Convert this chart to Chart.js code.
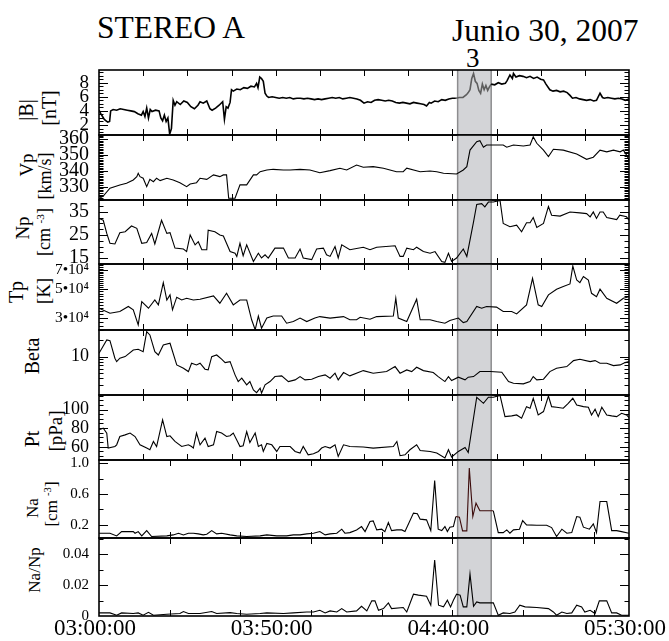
<!DOCTYPE html>
<html>
<head>
<meta charset="utf-8">
<script src="https://cdn.jsdelivr.net/npm/chart.js@4.4.1/dist/chart.umd.min.js"></script>
<style>
  html, body { margin: 0; padding: 0; background: #fff; overflow: hidden; width: 669px; height: 641px; }
  #wrap { position: relative; width: 669px; height: 641px; font-family: "Liberation Serif", "DejaVu Serif", serif; color: #000; overflow: hidden; }
  #wrap canvas { position: absolute; left: 0; }
  .t { position: absolute; white-space: nowrap; line-height: 1; }
  .yl { position: absolute; white-space: nowrap; line-height: 1; transform: translate(-50%, -50%) rotate(-90deg); }
  sup { font-size: 0.62em; vertical-align: 0.5em; line-height: 0; }
</style>
</head>
<body>
<div id="wrap">
  <div class="t" style="left:97px; top:12px; font-size:31.5px;">STEREO A</div>
  <div class="t" style="left:452px; top:15px; font-size:31.5px;">Junio 30, 2007</div>
  <div class="t" id="evt" style="left:466px; top:45px; font-size:27px;">3</div>

  <div class="yl" style="left:26px; top:110px; font-size:20px;">|B|</div>
  <div class="yl" style="left:49px; top:108px; font-size:20px;">[nT]</div>
  <div class="yl" style="left:26px; top:165px; font-size:19px;">Vp</div>
  <div class="yl" style="left:45px; top:176px; font-size:18px;">[km/s]</div>
  <div class="yl" style="left:22px; top:228px; font-size:19px;">Np</div>
  <div class="yl" style="left:44px; top:232px; font-size:18px;">[cm <sup>-3</sup>]</div>
  <div class="yl" style="left:16px; top:292px; font-size:20px;">Tp</div>
  <div class="yl" style="left:43px; top:291px; font-size:19px;">[K]</div>
  <div class="yl" style="left:32px; top:356px; font-size:20px;">Beta</div>
  <div class="yl" style="left:32px; top:439px; font-size:20px;">Pt</div>
  <div class="yl" style="left:55px; top:431px; font-size:19px;">[pPa]</div>
  <div class="yl" style="left:32px; top:508px; font-size:17px;">Na</div>
  <div class="yl" style="left:51px; top:504px; font-size:17px;">[cm <sup>-3</sup>]</div>
  <div class="yl" style="left:34px; top:570px; font-size:17px;">Na/Np</div>
</div>

<script>
// Time is in minutes after 03:00:00 UT (2007-06-30).
const timeTickMinutes = [0, 50, 100, 150];
const timeLabels = ['03:00:00', '03:50:00', '04:40:00', '05:30:00'];

// Interval of structure "3"
const shadeStart = 101.5;
const shadeEnd = 111.0;

// |B| [nT]
const bTime = [
  0,0.5,1,1.5,2,2.5,3,3.3,4,5,
  6,7,8,9,10,11,12,12.5,13,13.5,
  14,14.5,15,16,17,17.5,18,18.5,19,19.5,
  20,20.5,21,21.5,22,23,24,25,26,27,
  28,28.6,29.5,30.5,31.4,32,33,34,35,35.5,
  36,36.5,37.1,37.5,38,39,40,41,42,43,
  44,44.6,45,45.5,46,46.5,47,47.5,48,49,
  50,51,52,53,54,55,56,57,58,59,
  60,61,62,63,64,65,66,67,68,69,
  70,71,72,73,74,75,76,77,78,79,
  80,81,82,83,84,85,86,87,88,89,
  90,91,92,92.7,93.5,94,95,96,97,98,
  99,100,101,102,103,104,104.5,105,105.5,106,
  106.5,107,107.5,108,108.5,109,109.5,110,110.5,111,
  112,113,114,115,115.5,116.3,117,117.3,118,119,
  120,121,122,123,124,125,125.8,126.5,127.6,128.5,
  129.5,130.5,131.5,132.5,133.3,134,135,136,137,138,
  139,140,140.8,141.8,142.5,143,144,145,146,147,
  148,149,150
];
const bValues = [
  4.1,3.6,3.2,2.8,2.6,2.4,2.5,4.0,4.2,4.1,
  4.3,4.2,4.1,4.0,3.9,3.6,3.4,3.9,3.2,4.4,
  3.0,4.2,3.9,4.1,4.0,3.0,2.6,3.4,2.5,3.0,
  0.7,1.5,5.5,4.8,5.3,4.9,5.4,5.2,4.6,4.3,
  4.8,5.3,5.1,5.4,4.3,4.1,4.4,4.8,5.3,2.8,
  4.6,4.4,5.2,7.0,6.8,7.1,7.0,7.3,7.2,7.5,
  7.4,7.9,7.3,8.8,8.6,8.2,6.5,6.1,5.9,6.0,
  5.9,5.8,5.9,5.8,5.9,5.7,5.8,5.8,5.7,5.8,
  5.7,5.6,5.7,5.6,5.7,5.8,5.9,5.8,5.9,5.7,
  5.8,5.9,5.8,5.7,5.5,5.1,5.3,5.2,5.5,5.6,
  5.5,5.4,5.5,5.4,5.2,5.1,5.2,5.1,5.0,5.2,
  5.1,5.0,4.9,4.7,5.2,5.1,5.4,5.3,5.6,5.5,
  5.7,5.8,5.8,5.9,5.9,6.3,6.6,7.0,8.6,9.3,
  8.2,7.9,6.9,6.5,7.8,7.0,7.6,6.9,7.4,7.8,
  7.7,8.0,7.8,7.9,8.3,9.1,8.6,9.3,8.8,9.0,
  8.9,8.7,8.9,8.6,8.8,8.5,8.4,7.8,7.0,6.8,
  6.9,6.7,6.8,6.6,6.2,5.8,5.9,5.7,5.6,5.5,
  5.6,5.4,5.5,6.5,5.9,5.8,5.9,5.8,5.7,5.8,
  5.7,5.5,5.7
];

// Vp [km/s]
const vpTime = [0,1.2,3.1,5.9,7.8,9.7,10.7,11.1,11.6,12.5,13.5,14.4,15.4,16.3,17.3,19.2,21.0,22.9,24.8,25.8,27.6,28.6,30.5,32.4,34.2,35.2,36.1,36.7,38.5,39.9,41.8,43.7,44.6,45.6,47.5,49.3,52.2,54.1,56.9,59.7,62.5,65.4,68.2,70.1,72.9,74.8,77.6,80.5,84.2,86.1,87.1,90.9,93.7,95.6,97.5,101.2,103.1,104.1,105.0,106.9,107.8,108.8,109.7,111.1,114.4,115.4,117.3,120.1,122.0,122.9,123.9,125.8,127.2,128.6,131.4,135.2,138.0,139.9,141.8,143.7,145.6,147.5,148.4,149.3,150];
const vpValues = [322.5,324,329,331,332.1,334.2,336.3,338.4,336.3,335.3,330,334.6,333.1,335.3,333.8,335.3,334.2,332.5,330,331.7,332.5,335.3,334.6,337.4,336.3,337.4,337.4,322.7,322.7,331.1,331.1,337.4,337.4,339.4,340.5,340.9,340.5,340.5,340.9,340.5,338.8,340.1,341.6,340.5,343.6,342.2,342.6,341.6,339.4,339.4,341.6,339.4,339.8,339.4,338.4,338,340.5,342.6,353,358.3,358.9,354.8,356.2,356.2,356.2,354.8,356.2,355.6,356.2,361.4,357.3,353,348.9,353.5,353,350.6,347.2,348.5,353,351.9,353,351.9,353,349.9,346.8];

// Np [cm^-3]
const npTime = [0,1.2,2.2,3.1,4.5,5.9,7.4,9.2,10.7,12.1,13.5,14.9,15.8,17.7,19.2,20.1,21.5,23.9,24.8,25.8,27.2,28.1,29.1,30.5,30.9,32.8,34.2,35.2,37.1,38.5,39.0,39.9,40.8,41.8,43.7,45.1,46.0,47.0,47.9,49.8,52.2,53.6,55.5,56.9,57.8,60.2,61.6,63.5,64.4,65.4,66.8,67.7,68.7,71.0,74.8,76.7,78.6,83.8,85.2,86.1,87.1,89.0,89.9,91.8,93.7,95.1,97.0,97.9,98.9,99.8,101.2,103.1,104.1,106.0,106.9,108.3,109.2,110.2,111.6,113.5,114.4,116.3,118.2,119.6,121.0,122.0,122.9,123.9,125.8,127.2,128.1,130.5,133.3,136.1,138.0,139.0,139.9,140.8,141.8,142.7,143.7,146.5,147.4,149.3,150];
const npValues = [32.2,31.4,25.7,21.4,21.1,26,26.4,28.9,27.9,21.4,21.7,25.7,21.1,31.4,25.7,26,19.3,18.9,17.8,25,20.7,22.1,18.6,18.6,27.1,26.4,25,24.6,17.8,17.1,15.7,21.4,16,20.7,13.5,17.1,15,16.4,15,19.3,19.3,15,15,18.9,15,14.3,18.9,19.3,16.4,15.7,20,15,20.7,18.6,19.7,18.6,19.7,20.3,15.7,15.7,19.3,18.6,19.7,17.8,17.1,17.8,13.5,13.1,17.1,13.5,15,18.9,15.7,30.7,38.3,38.6,37.2,39.3,39.3,40,30,28.6,29.3,26.4,30.3,30.3,32.6,28.3,30,37.4,33.6,33.2,35,34.6,34.3,32.9,35,32.2,35,35,32.6,31.7,33.6,32.9,31.4];

// Tp [K]
const tpTime = [0,3.1,5.9,8.3,9.7,11.1,12.1,14.0,15.8,16.8,18.2,19.2,20.1,20.8,22.0,23.4,24.8,26.7,28.6,32.4,34.2,36.1,38.0,39.9,41.8,43.2,44.2,45.1,46.0,47.5,49.3,51.7,53.1,55.0,56.9,58.8,61.1,62.5,65.4,69.2,71.0,72.9,73.9,76.7,78.6,83.3,84.0,84.7,87.1,89.9,90.9,93.7,95.6,97.9,99.3,101.7,103.1,104.1,106.9,108.3,109.7,112.5,114.4,116.8,118.2,121.0,122.7,124.3,125.3,127.2,129.5,131.4,133.3,134.1,135.2,136.1,137.1,138.5,139.4,140.8,141.8,143.7,146.5,148.4,150];
const tpValues = [35600,32600,33600,36700,34600,26500,40000,35600,41200,37800,56100,41200,45100,34600,43300,41200,42500,41200,41800,44300,38900,46400,37800,41200,41200,29000,24300,31000,25000,29900,31000,31000,27300,28100,29900,28100,29900,30700,29900,30700,29000,29000,30300,29300,30700,31000,42500,29900,28100,41800,29000,29000,28100,27300,28600,29900,27600,28100,36700,35600,36700,36300,33600,33600,32200,37800,60500,37800,36700,45100,49900,52300,54800,75300,58700,56100,62400,58700,46400,43700,49900,42500,38900,42500,43700];

// Plasma beta
const betaTime = [0,2.2,3.1,4.5,5.0,5.9,7.4,9.7,11.1,12.5,13.5,14.4,15.8,16.8,18.2,20.1,22.0,23.9,25.3,26.2,27.6,28.6,30.0,30.9,31.9,33.3,34.7,35.7,37.1,38.5,39.4,40.4,41.8,42.7,43.7,44.6,45.6,46.0,47.0,48.4,49.8,51.7,53.6,55.5,56.9,58.3,60.2,62.1,64.0,65.4,66.8,67.7,69.2,71.0,74.8,77.6,81.4,83.8,85.2,87.1,88.5,89.9,91.8,94.6,96.0,97.9,98.9,99.8,101.7,103.6,104.5,106.0,107.8,110.7,114.0,115.9,117.3,120.1,122.0,122.9,123.9,125.8,127.6,129.5,132.4,134.3,136.1,139.0,140.4,141.8,143.7,145.6,147.5,148.9,150];
const betaValues = [11.5,20.1,19.5,9.35,8.1,9.35,10,13.2,13.6,12.3,28.5,24.8,12.3,10.7,16.3,17.5,7.06,6.15,5.34,7.59,7.06,7.59,5.9,5.73,10,10.7,8.97,7.78,8.1,4.65,3.51,4.05,3.06,3.51,2.48,2.21,2.66,2.16,3.06,3.51,4.33,4.46,3.51,3.77,4.33,3.77,3.88,4.33,4.65,4.05,4.99,3.77,5.12,4.46,5.56,4.99,5.34,6.58,4.99,5.73,5.34,6.41,5.56,5.12,4.33,3.51,4.33,3.66,4.22,3.77,4.22,4.33,5.34,5.34,5.2,3.51,3.28,3.19,3.51,4.33,3.77,3.88,5.34,6.15,6.58,8.46,8.97,8.1,8.46,7.59,7.59,6.86,7.06,7.78,8.1];

// Pt [pPa]
const ptTime = [0,1.2,2.2,2.6,4.5,5.0,5.9,7.4,8.8,10.2,11.6,13.5,14.4,15.4,16.3,18.0,19.2,20.1,21.5,23.4,25.3,26.2,26.7,27.6,28.6,30.0,30.9,32.4,33.3,34.7,36.1,37.1,38.0,39.2,39.9,40.8,41.8,42.7,44.2,45.1,46.0,46.5,47.5,48.9,50.3,51.2,54.1,55.5,56.9,57.8,59.2,60.7,62.1,63.0,64.0,65.4,66.8,67.7,69.2,71.0,74.8,77.6,83.3,84.3,85.2,86.6,88.0,89.9,90.9,93.7,95.6,97.9,98.9,99.8,101.7,103.6,104.5,106.9,108.8,110.2,111.6,113.5,114.9,116.8,118.2,119.6,121.0,122.0,122.9,124.3,125.8,127.2,128.1,129.5,131.4,132.8,134.1,135.2,137.1,138.5,139.4,140.4,141.3,142.3,143.7,145.1,146.5,147.9,149.3,150];
const ptValues = [78.2,80,74.7,58.6,60.3,62.1,71,72.8,74.7,71,62.1,58.6,56.8,65.7,60.3,88.9,71,71.8,65.7,60.3,62.1,60.3,58.6,74.7,62.1,69.3,60.3,62.1,76.4,74.7,71,71.8,74.7,65.7,60.3,61.1,76.4,64.6,74.7,60.3,62.1,55,63.5,62.1,55,60.3,60.3,55,53.3,60.3,51.4,52.5,55,58.6,60.3,58.6,62.1,49.6,62.1,60.3,59.7,58.6,60.3,65.7,50.4,51.4,56.8,62.1,56,55,53.3,47.9,56.8,49,55,59.3,53.9,113.2,106.7,113.2,113.2,115.2,92.4,93.2,94.2,90.7,103.1,101.4,112.1,94.2,97.8,114.5,103.1,102.4,101.4,106.7,112.1,104.9,103.1,102.4,94.2,100.3,92.4,102.4,94.2,93.2,92.4,96,94.2,91.4];

// Na [cm^-3]
const naTime = [0,3.1,5.0,6.4,9.7,10.2,11.1,12.1,13.5,14.9,19.2,21.0,22.5,23.9,25.3,26.7,28.1,29.5,30.5,31.9,33.3,34.7,37.1,39.0,41.8,45.6,47.5,50.3,53.1,55.0,56.9,58.8,60.7,62.5,64.0,65.4,67.3,68.7,69.6,71.0,72.9,74.3,75.3,76.7,77.6,78.6,80.0,80.9,81.9,82.8,84.3,85.7,86.6,89.0,90.1,90.9,92.7,93.9,95.0,96.0,97.0,97.9,98.6,99.3,100.3,101.0,102.0,102.9,104.1,104.8,105.8,106.7,107.8,109.7,111.6,113.0,114.4,115.4,116.3,117.3,119.0,119.9,121.0,123.9,126.7,128.1,129.5,131.0,132.4,133.8,135.2,136.1,137.1,138.8,139.9,140.8,141.8,143.7,145.1,146.5,147.9,150];
const naValues = [0.092,0.092,0.057,0.113,0.113,0.092,0.113,0.057,0.126,0.049,0.057,0.07,0.092,0.07,0.092,0.092,0.083,0.07,0.079,0.126,0.083,0.092,0.07,0.057,0.049,0.057,0.07,0.057,0.057,0.07,0.07,0.083,0.092,0.113,0.07,0.083,0.092,0.144,0.092,0.1,0.135,0.178,0.113,0.243,0.252,0.135,0.144,0.113,0.23,0.126,0.135,0.135,0.113,0.352,0.343,0.274,0.265,0.126,0.775,0.144,0.126,0.178,0.113,0.17,0.178,0.308,0.3,0.122,0.122,0.935,0.308,0.481,0.382,0.382,0.382,0.1,0.1,0.135,0.092,0.135,0.144,0.256,0.2,0.196,0.196,0.165,0.049,0.144,0.092,0.1,0.308,0.3,0.17,0.144,0.213,0.1,0.502,0.502,0.126,0.126,0.113,0.092];

// Na/Np
const ratioTime = [0,3.1,5.0,6.4,9.7,11.1,12.5,14.0,15.4,19.2,22.9,23.9,25.3,28.6,31.9,33.3,37.1,39.0,41.8,45.6,47.5,52.2,55.0,58.8,60.7,62.5,64.0,65.4,67.3,68.7,70.1,72.9,74.3,75.8,77.2,78.1,79.1,80.5,81.9,82.8,86.1,87.1,89.0,90.4,92.7,93.9,95.0,96.1,97.5,98.6,99.5,100.3,101.2,102.2,103.1,104.1,105.0,106.0,106.9,107.8,111.6,113.0,114.4,116.3,117.7,119.1,120.6,123.9,127.2,128.6,129.5,131.0,132.4,133.8,135.2,136.6,137.5,139.0,140.4,141.6,143.7,145.1,146.5,147.9,150];
const ratioValues = [0.002,0.002,0.0005,0.002,0.0016,0.002,0.0005,0.0024,0.0005,0.0011,0.0016,0.0029,0.0016,0.0016,0.0029,0.0016,0.0022,0.0016,0.0011,0.0016,0.002,0.0016,0.002,0.0026,0.0026,0.0037,0.002,0.0033,0.0026,0.0048,0.0026,0.0033,0.0063,0.0033,0.0098,0.0098,0.0037,0.0048,0.0085,0.0048,0.0055,0.0026,0.0141,0.0135,0.0128,0.007,0.0363,0.007,0.0059,0.0102,0.0059,0.0102,0.0141,0.0135,0.0059,0.0059,0.0272,0.0063,0.0091,0.0085,0.0085,0.0005,0.002,0.0016,0.0026,0.007,0.0059,0.0055,0.0048,0.0026,0.0005,0.0026,0.0016,0.002,0.007,0.0059,0.0026,0.0037,0.0016,0.0098,0.0098,0.002,0.002,0.0005,0.0005];

// Labelled y ticks of each panel
const bTicks = [2, 4, 6, 8];
const vpTicks = [330, 340, 350, 360];
const npTicks = [15, 25, 35];
const tpTicks = [30000, 50000, 70000];
const betaTicks = [10];
const ptTicks = [60, 80, 100];
const naTicks = [0.2, 0.6, 1.0];
const ratioTicks = [0, 0.02, 0.04];

const SERIF = '"Liberation Serif", "DejaVu Serif", serif';
const sup4 = '\u2074';

function stepList(min, max, step) {
  const out = [];
  for (let v = Math.ceil(min / step - 1e-9) * step; v <= max + 1e-9; v += step) out.push(+v.toFixed(6));
  return out;
}

const panels = [
  { time: bTime, values: bValues, type: 'linear', min: 0.58, max: 9.8, major: bTicks,
    minor: stepList(0.58, 9.8, 0.5), fmt: v => String(v), font: 19, lw: 1.6, shadeColor: '#5e5e5e', xStep: 12.5 },
  { time: vpTime, values: vpValues, type: 'linear', min: 321.6, max: 362.5, major: vpTicks,
    minor: stepList(321.6, 362.5, 1), fmt: v => String(v), font: 20, lw: 1.1, xStep: 12.5 },
  { time: npTime, values: npValues, type: 'linear', min: 12.4, max: 40.2, major: npTicks,
    minor: stepList(12.4, 40.2, 2.5), fmt: v => String(v), font: 20, lw: 1.1, xStep: 12.5 },
  { time: tpTime, values: tpValues, type: 'logarithmic', min: 24200, max: 78000, major: tpTicks,
    minor: stepList(24200, 78000, 2000), fmt: v => (v / 10000) + '\u202210' + sup4, font: 15.5, lw: 1.1, xStep: 12.5 },
  { time: betaTime, values: betaValues, type: 'logarithmic', min: 2.0, max: 30.5, major: betaTicks,
    minor: [2, 3, 4, 5, 6, 7, 8, 9, 20, 30], fmt: v => String(v), font: 18, lw: 1.1, xStep: 12.5 },
  { time: ptTime, values: ptValues, type: 'linear', min: 45.8, max: 115.6, major: ptTicks,
    minor: stepList(45.8, 115.6, 5), fmt: v => String(v), font: 18, lw: 1.1, xStep: 12.5 },
  { time: naTime, values: naValues, type: 'linear', min: 0.03, max: 1.04, major: naTicks,
    minor: stepList(0.03, 1.04, 0.2), fmt: v => v.toFixed(1), font: 15, lw: 1.1, shadeColor: '#3c0b0b', xStep: 20 },
  { time: ratioTime, values: ratioValues, type: 'linear', min: 0, max: 0.0505, major: ratioTicks,
    minor: stepList(0, 0.0505, 0.01), fmt: v => (v === 0 ? '0' : v.toFixed(2)), font: 15, lw: 1.1, xStep: 20 }
];

// Panel boxes (top, bottom) in page pixels
const bounds = [[70,135],[135,200],[200,264],[264,330],[330,395],[395,460],[460,538],[538,616]];
const CANVAS_W = 700, AXIS_LEFT = 99, PAD_RIGHT = 71, OVER = 14, XAXIS_H = 25;

const shadePlugin = {
  id: 'eventShade',
  beforeDatasetsDraw(chart) {
    const { ctx, chartArea: a, scales: { x } } = chart;
    const x0 = x.getPixelForValue(shadeStart), x1 = x.getPixelForValue(shadeEnd);
    ctx.save();
    ctx.fillStyle = '#d3d4d7';
    ctx.fillRect(x0, a.top, x1 - x0, a.bottom - a.top);
    ctx.strokeStyle = '#8d8d8f';
    ctx.lineWidth = 1.5;
    ctx.beginPath();
    ctx.moveTo(x0, a.top); ctx.lineTo(x0, a.bottom);
    ctx.moveTo(x1, a.top); ctx.lineTo(x1, a.bottom);
    ctx.stroke();
    ctx.restore();
  }
};

function framePlugin(p) {
  return {
    id: 'panelFrame',
    afterDatasetsDraw(chart) {
      const { ctx, chartArea: a, scales: { x, y } } = chart;
      ctx.save();
      ctx.strokeStyle = '#000';
      ctx.lineWidth = 1;
      ctx.beginPath();
      const yTick = (v, len) => {
        const py = Math.round(y.getPixelForValue(v)) + 0.5;
        if (py < a.top || py > a.bottom) return;
        ctx.moveTo(a.left, py); ctx.lineTo(a.left + len, py);
        ctx.moveTo(a.right, py); ctx.lineTo(a.right - len, py);
      };
      p.minor.forEach(v => yTick(v, 4.5));
      p.major.forEach(v => yTick(v, 9));
      for (let t = p.xStep; t < 150 - 1e-6; t += p.xStep) {
        const px = Math.round(x.getPixelForValue(t)) + 0.5;
        ctx.moveTo(px, a.top); ctx.lineTo(px, a.top + 6);
        ctx.moveTo(px, a.bottom); ctx.lineTo(px, a.bottom - 6);
      }
      ctx.stroke();
      ctx.lineWidth = 1.6;
      ctx.strokeRect(a.left, a.top, a.right - a.left, a.bottom - a.top);
      ctx.restore();
    }
  };
}

const wrap = document.getElementById('wrap');

panels.forEach((p, i) => {
  const [top, bottom] = bounds[i];
  const last = i === panels.length - 1;
  const h = bottom - top + OVER + (last ? XAXIS_H : OVER);
  const c = document.createElement('canvas');
  c.width = CANVAS_W; c.height = h;
  c.style.width = CANVAS_W + 'px'; c.style.height = h + 'px';
  c.style.top = (top - OVER) + 'px';
  wrap.appendChild(c);

  const n = Math.min(p.time.length, p.values.length);
  const points = [];
  for (let k = 0; k < n; k++) points.push({ x: p.time[k], y: p.values[k] });

  new Chart(c, {
    type: 'line',
    data: {
      datasets: [{
        data: points,
        borderColor: '#000',
        borderWidth: p.lw,
        pointRadius: 0,
        tension: 0,
        fill: false,
        segment: {
          borderColor: ctx => {
            if (!p.shadeColor) return '#000';
            const mid = (ctx.p0.parsed.x + ctx.p1.parsed.x) / 2;
            return (mid >= shadeStart && mid <= shadeEnd) ? p.shadeColor : '#000';
          }
        }
      }]
    },
    options: {
      responsive: false,
      animation: false,
      events: [],
      layout: { padding: { top: OVER, bottom: last ? 0 : OVER, left: 0, right: PAD_RIGHT } },
      plugins: { legend: { display: false }, tooltip: { enabled: false } },
      scales: {
        x: {
          type: 'linear', min: 0, max: 150, display: last, position: 'bottom',
          grid: { display: false }, border: { display: false },
          afterBuildTicks: s => { s.ticks = timeTickMinutes.map(v => ({ value: v })); },
          afterFit: s => { if (last) s.height = XAXIS_H; },
          ticks: {
            autoSkip: false, maxRotation: 0, padding: -9, labelOffset: -4, color: '#000',
            font: { family: SERIF, size: 23 },
            callback: v => { const k = timeTickMinutes.indexOf(v); return k >= 0 ? timeLabels[k] : ''; }
          }
        },
        y: {
          type: p.type, min: p.min, max: p.max, position: 'left',
          grid: { display: false }, border: { display: false },
          afterBuildTicks: s => { s.ticks = p.major.map(v => ({ value: v })); },
          afterFit: s => { s.width = AXIS_LEFT; },
          ticks: {
            autoSkip: false, padding: 2, color: '#000',
            font: { family: SERIF, size: p.font },
            callback: v => p.fmt(v)
          }
        }
      }
    },
    plugins: [shadePlugin, framePlugin(p)]
  });
});
</script>
</body>
</html>
